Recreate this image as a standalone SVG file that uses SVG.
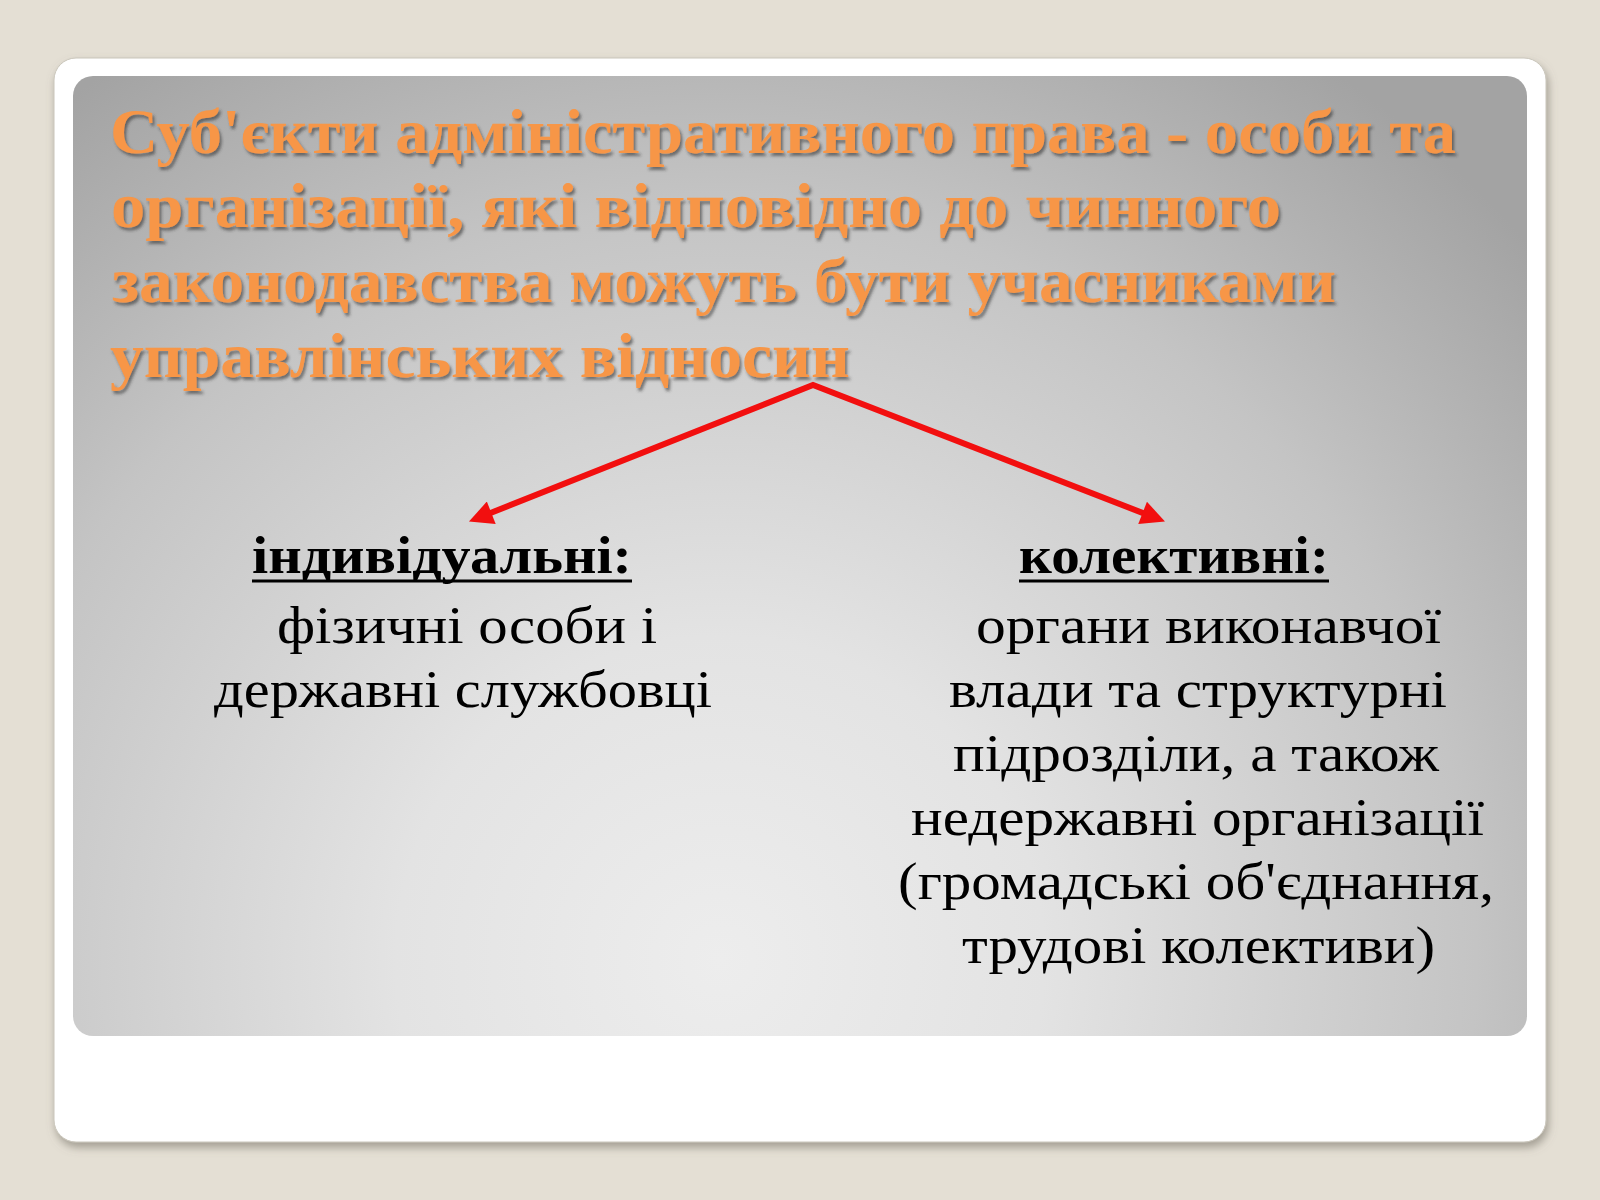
<svg xmlns="http://www.w3.org/2000/svg" width="1600" height="1200" viewBox="0 0 1600 1200">
  <defs>
    <style>
      .title { font-family: "Liberation Serif", "DejaVu Serif", serif; font-weight: bold; font-size: 63px; fill: #F79646; }
      .body { font-family: "Liberation Serif", "DejaVu Serif", serif; font-size: 53px; fill: #000000; }
      .head { font-weight: bold; }
      .uline { stroke: #000000; stroke-width: 3; }
      .conn { fill: none; stroke: #F20F0F; stroke-width: 6; stroke-linejoin: miter; }
    </style>
    <radialGradient id="panelGrad" gradientUnits="userSpaceOnUse" cx="720" cy="960" r="1080">
      <stop offset="0" stop-color="#EDEDED"/>
      <stop offset="0.3" stop-color="#E3E3E3"/>
      <stop offset="0.7" stop-color="#C4C4C4"/>
      <stop offset="1" stop-color="#A3A3A3"/>
    </radialGradient>
    <filter id="cardShadow" x="-5%" y="-5%" width="110%" height="112%">
      <feDropShadow dx="2" dy="5" stdDeviation="4" flood-color="#6E6A5E" flood-opacity="0.55"/>
    </filter>
    <filter id="textShadow" x="-5%" y="-20%" width="110%" height="140%">
      <feDropShadow dx="2" dy="3" stdDeviation="1.8" flood-color="#333333" flood-opacity="0.6"/>
    </filter>
    <marker id="arrow" viewBox="0 0 10 10" refX="4.6" refY="5" markerWidth="27" markerHeight="24" markerUnits="userSpaceOnUse" orient="auto-start-reverse">
      <path d="M0,0 L10,5 L0,10 z" fill="#F20F0F"/>
    </marker>
  </defs>

  <g id="background">
    <rect x="0" y="0" width="1600" height="1200" fill="#E4DFD4"/>
    <rect x="54" y="58" width="1492" height="1084" rx="22" ry="22" fill="#FFFFFF" stroke="#C9C5BA" stroke-width="1" filter="url(#cardShadow)"/>
    <rect x="73" y="76" width="1454" height="960" rx="20" ry="20" fill="url(#panelGrad)"/>
  </g>

  <g id="title" filter="url(#textShadow)">
    <text class="title" x="110" y="153" textLength="1346" lengthAdjust="spacingAndGlyphs">Суб'єкти адміністративного права - особи та</text>
    <text class="title" x="111" y="227" textLength="1170" lengthAdjust="spacingAndGlyphs">організації, які відповідно до чинного</text>
    <text class="title" x="112" y="302" textLength="1224" lengthAdjust="spacingAndGlyphs">законодавства можуть бути учасниками</text>
    <text class="title" x="110" y="377" textLength="740" lengthAdjust="spacingAndGlyphs">управлінських відносин</text>
  </g>

  <g id="connectors">
    <path class="conn" d="M481,516.8 L813,385 L1152.9,516.9" marker-start="url(#arrow)" marker-end="url(#arrow)"/>
  </g>

  <g id="individual">
    <text class="body head" x="252" y="573" textLength="380" lengthAdjust="spacingAndGlyphs">індивідуальні:</text>
    <line class="uline" x1="252" y1="581" x2="632" y2="581"/>
    <text class="body" x="277" y="643" textLength="380" lengthAdjust="spacingAndGlyphs">фізичні особи і</text>
    <text class="body" x="214" y="707" textLength="498" lengthAdjust="spacingAndGlyphs">державні службовці</text>
  </g>

  <g id="collective">
    <text class="body head" x="1019" y="573" textLength="310" lengthAdjust="spacingAndGlyphs">колективні:</text>
    <line class="uline" x1="1019" y1="581" x2="1329" y2="581"/>
    <text class="body" x="976" y="643" textLength="465" lengthAdjust="spacingAndGlyphs">органи виконавчої</text>
    <text class="body" x="949" y="707" textLength="498" lengthAdjust="spacingAndGlyphs">влади та структурні</text>
    <text class="body" x="953" y="771" textLength="486" lengthAdjust="spacingAndGlyphs">підрозділи, а також</text>
    <text class="body" x="911" y="835" textLength="573" lengthAdjust="spacingAndGlyphs">недержавні організації</text>
    <text class="body" x="898" y="899" textLength="596" lengthAdjust="spacingAndGlyphs">(громадські об'єднання,</text>
    <text class="body" x="962" y="963" textLength="473" lengthAdjust="spacingAndGlyphs">трудові колективи)</text>
  </g>
</svg>
